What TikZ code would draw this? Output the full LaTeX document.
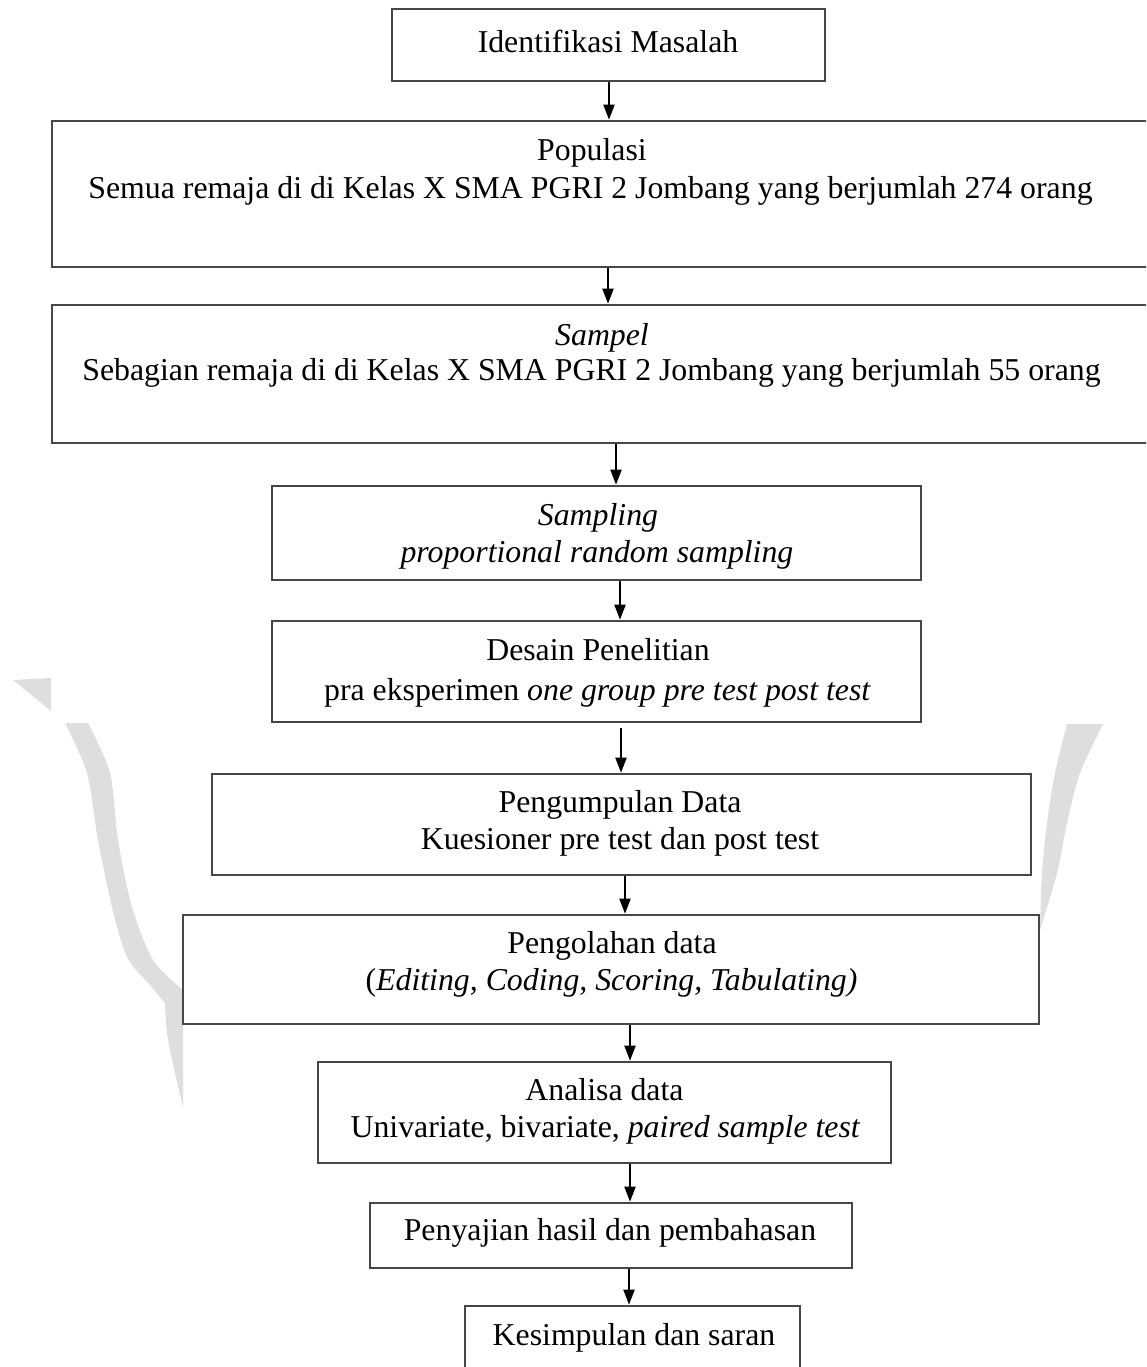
\documentclass[tikz,border=0pt]{standalone}
\usepackage{fontspec}
\setmainfont{Liberation Serif}
\usetikzlibrary{arrows.meta}
\begin{document}
\begin{tikzpicture}[x=1pt,y=-1pt,
  box/.style={draw=black!72, line width=2.6pt, fill=white, inner sep=0pt},
  txt/.style={font=\fontsize{31.8}{38}\selectfont, inner sep=0pt, anchor=base},
  arr/.style={draw=black, line width=2pt, -{Triangle[length=15pt,width=11pt]}},
  wm/.style={fill=black!13, draw=none}]
\useasboundingbox (0,0) rectangle (1146,1367);
\clip (0,0) rectangle (1146,1367);
\fill[white] (0,0) rectangle (1146,1367);
% watermark remnants
\fill[wm] (13,680) -- (51,678) -- (51,711) -- cycle;
\fill[wm] plot[smooth] coordinates {(65,723) (87,773) (98,840) (112,907) (127,957) (150,985) (165,1003)}
  -- plot[smooth] coordinates {(165,1003) (168,1040) (183,1107)}
  -- (183,990)
  -- plot[smooth] coordinates {(183,990) (153,960) (132,907) (118,840) (110,773) (88,723)} -- cycle;
\fill[wm] plot[smooth] coordinates {(1067,724) (1055,773) (1047,823) (1042,873) (1040,930)}
  -- plot[smooth] coordinates {(1040,930) (1057,873) (1067,823) (1080,773) (1103,724)} -- cycle;
% boxes
\node[box, minimum width=433pt, minimum height=72pt] (b1) at (608.5,45) {};
\node[box, minimum width=1128pt, minimum height=146pt] (b2) at (616,194) {};
\node[box, minimum width=1128pt, minimum height=138pt] (b3) at (616,374) {};
\node[box, minimum width=649pt, minimum height=94pt] (b4) at (596.5,533) {};
\node[box, minimum width=649pt, minimum height=101pt] (b5) at (596.5,671.5) {};
\node[box, minimum width=819pt, minimum height=101pt] (b6) at (621.5,824.5) {};
\node[box, minimum width=856pt, minimum height=109pt] (b7) at (611,969.5) {};
\node[box, minimum width=573pt, minimum height=101pt] (b8) at (604.5,1112.5) {};
\node[box, minimum width=482pt, minimum height=65pt] (b9) at (611,1235.5) {};
\node[box, minimum width=335pt, minimum height=120pt] (b10) at (632.5,1366) {};
% texts
\node[txt] (t1) at (608,53) {Identifikasi Masalah};
\node[txt] (t2a) at (592,161) {Populasi};
\node[txt] (t2b) at (590.5,198) {Semua remaja di di Kelas X SMA PGRI 2 Jombang yang berjumlah 274 orang};
\node[txt] (t3a) at (602,345) {\textit{Sampel}};
\node[txt] (t3b) at (591.5,380) {Sebagian remaja di di Kelas X SMA PGRI 2 Jombang yang berjumlah 55 orang};
\node[txt] (t4a) at (598,525) {\textit{Sampling}};
\node[txt] (t4b) at (597,562) {\textit{proportional random sampling}};
\node[txt] (t5a) at (598,660) {Desain Penelitian};
\node[txt] (t5b) at (597.5,700) {pra eksperimen \textit{one group pre test post test}};
\node[txt] (t6a) at (620,812) {Pengumpulan Data};
\node[txt] (t6b) at (620,849) {Kuesioner pre test dan post test};
\node[txt] (t7a) at (612,953) {Pengolahan data};
\node[txt] (t7b) at (611.5,990) {(\textit{Editing, Coding, Scoring, Tabulating)}};
\node[txt] (t8a) at (604.5,1100) {Analisa data};
\node[txt] (t8b) at (605.5,1137) {Univariate, bivariate, \textit{paired sample test}};
\node[txt] (t9) at (610,1240) {Penyajian hasil dan pembahasan};
\node[txt] (t10) at (634,1345) {Kesimpulan dan saran};
% arrow columns
\coordinate (x1) at (609,0);
\coordinate (x2) at (608,0);
\coordinate (x3) at (616,0);
\coordinate (x4) at (620,0);
\coordinate (x5) at (621,0);
\coordinate (x6) at (625,0);
\coordinate (x7) at (630,0);
\coordinate (x8) at (630,0);
\coordinate (x9) at (629,0);
\coordinate (s5) at (621,728);
% connectors
\draw[arr] (b1.south -| x1) -- (b2.north -| x1);
\draw[arr] (b2.south -| x2) -- (b3.north -| x2);
\draw[arr] (b3.south -| x3) -- (b4.north -| x3);
\draw[arr] (b4.south -| x4) -- (b5.north -| x4);
\draw[arr] (s5) -- (b6.north -| x5);
\draw[arr] (b6.south -| x6) -- (b7.north -| x6);
\draw[arr] (b7.south -| x7) -- (b8.north -| x7);
\draw[arr] (b8.south -| x8) -- (b9.north -| x8);
\draw[arr] (b9.south -| x9) -- (b10.north -| x9);
\end{tikzpicture}
\end{document}
